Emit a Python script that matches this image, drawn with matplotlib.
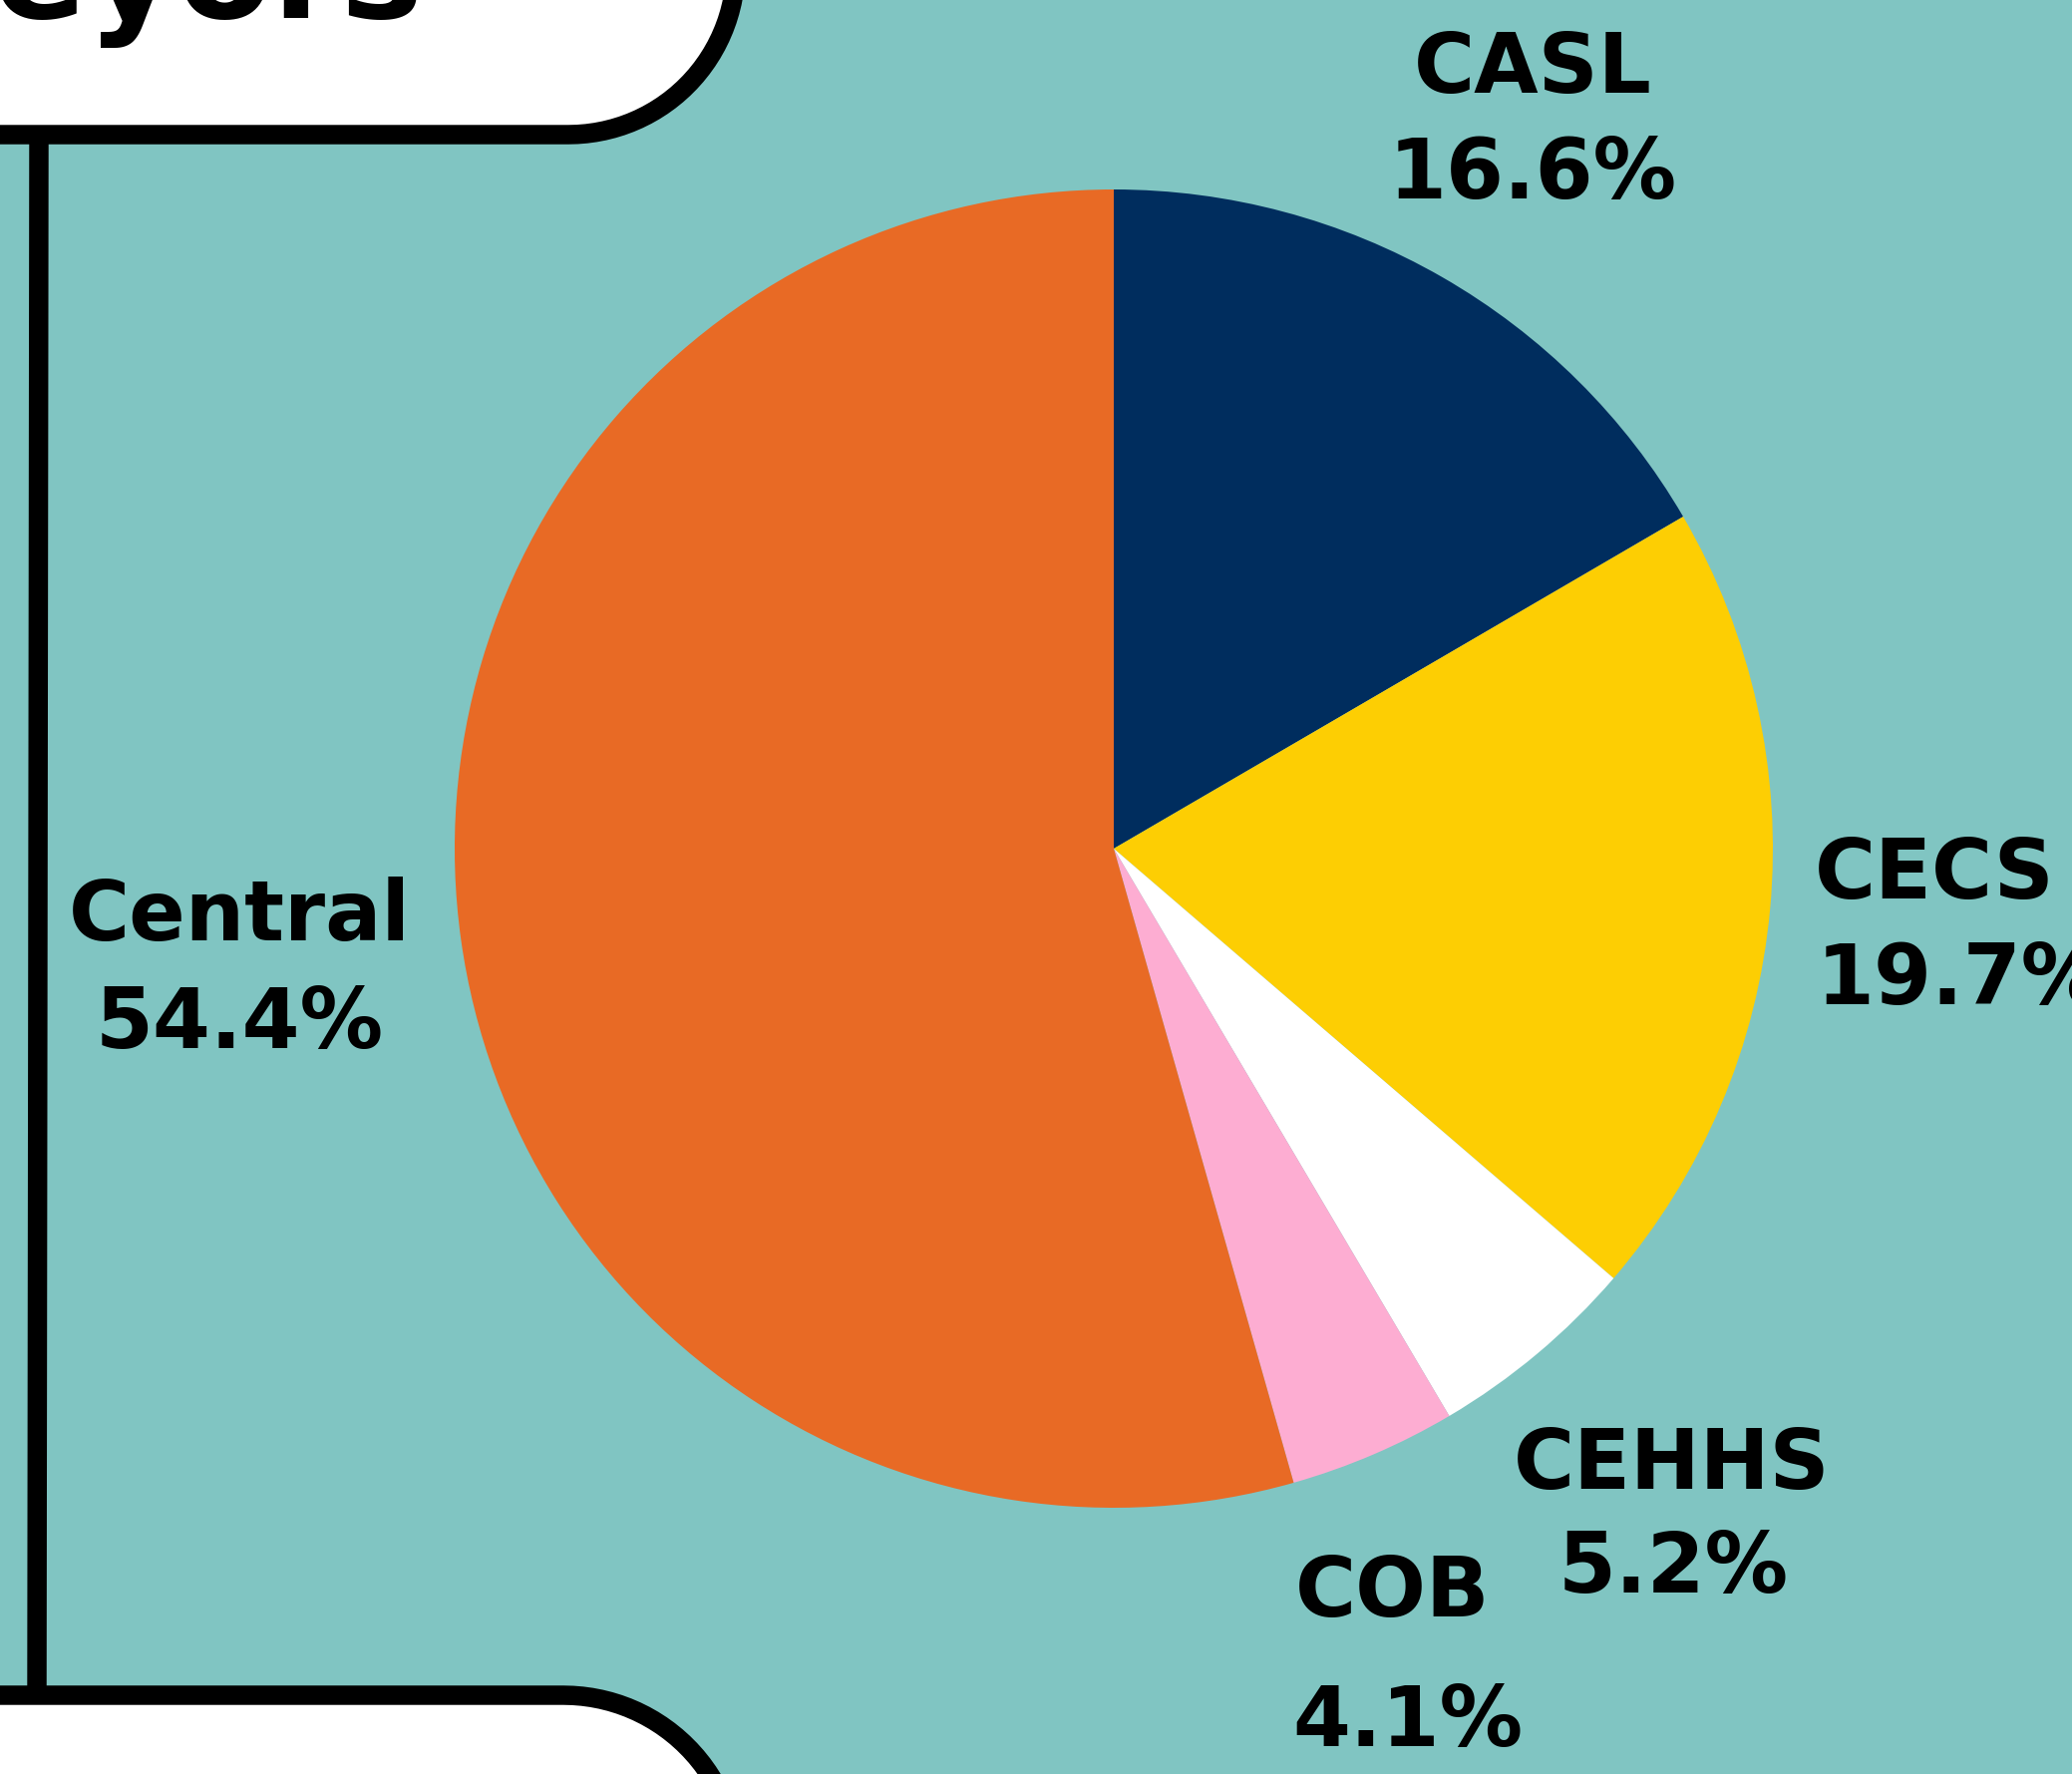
import matplotlib.pyplot as plt
from matplotlib.path import Path
from matplotlib.patches import PathPatch
import numpy as np

# data
colleges = ['CASL', 'CECS', 'CEHHS', 'COB', 'Central']
shares = [16.6, 19.7, 5.2, 4.1, 54.4]
colors = ['#002D5E', '#FDCE03', '#FFFFFF', '#FDADD2', '#E86A25']

W, H = 2078, 1779
bg = '#80C5C2'

fig = plt.figure(figsize=(W / 100, H / 100), dpi=100, facecolor=bg)
ax = fig.add_axes([0, 0, 1, 1])
ax.set_xlim(0, W)
ax.set_ylim(0, H)
ax.set_aspect('equal')
ax.axis('off')
ax.set_facecolor(bg)


def rounded_box(x0, x1, y0, y1, r, corner):
    # box with one rounded corner on the right side (pixel coords, y down)
    t = np.linspace(0, np.pi / 2, 30)
    if corner == 'bottom':
        cx, cy = x1 - r, y1 - r
        arc = [(cx + r * np.sin(a), cy + r * np.cos(a)) for a in t[::-1]]
        pts = [(x0, y0), (x1, y0)] + arc + [(x0, y1)]
    else:
        cx, cy = x1 - r, y0 + r
        arc = [(cx + r * np.sin(a), cy - r * np.cos(a)) for a in t]
        pts = [(x0, y0)] + arc + [(x1, y1), (x0, y1)]
    pts = [(x, H - y) for x, y in pts]
    return Path(pts + [pts[0]])


# top title box
top = rounded_box(-60, 738, -200, 135, 168, 'bottom')
ax.add_patch(PathPatch(top, facecolor='white', edgecolor='black', lw=14))
ax.text(424, H - 18, 'Surveyors', ha='right', va='baseline',
        fontsize=100, fontweight='bold', color='black')

# bottom box
bot = rounded_box(-60, 740, 1700, 1900, 175, 'top')
ax.add_patch(PathPatch(bot, facecolor='white', edgecolor='black', lw=14))

# vertical connector
ax.plot([39, 37], [H - 140, H - 1700], color='black', lw=14, solid_capstyle='butt')

# pie
ax.pie(shares, colors=colors, startangle=90, counterclock=False,
       center=(1117, H - 851), radius=661, frame=True,
       wedgeprops=dict(linewidth=0))
ax.set_xlim(0, W)
ax.set_ylim(0, H)
ax.axis('off')

lab = dict(fontsize=60, fontweight='bold', color='black')
ax.text(1537, H - 69, 'CASL', ha='center', va='center', **lab)
ax.text(1537, H - 176, f'{shares[0]}%', ha='center', va='center', **lab)
ax.text(1820, H - 877, 'CECS', ha='left', va='center', **lab)
ax.text(1822, H - 984, f'{shares[1]}%', ha='left', va='center', **lab)
ax.text(1677, H - 1469, 'CEHHS', ha='center', va='center', **lab)
ax.text(1678, H - 1574, f'{shares[2]}%', ha='center', va='center', **lab)
ax.text(1299, H - 1598, 'COB', ha='left', va='center', **lab)
ax.text(1296, H - 1728, f'{shares[3]}%', ha='left', va='center', **lab)
ax.text(240, H - 919, 'Central', ha='center', va='center', **lab)
ax.text(240, H - 1028, f'{shares[4]}%', ha='center', va='center', **lab)

fig.savefig('out.png', dpi=100, facecolor=bg)
